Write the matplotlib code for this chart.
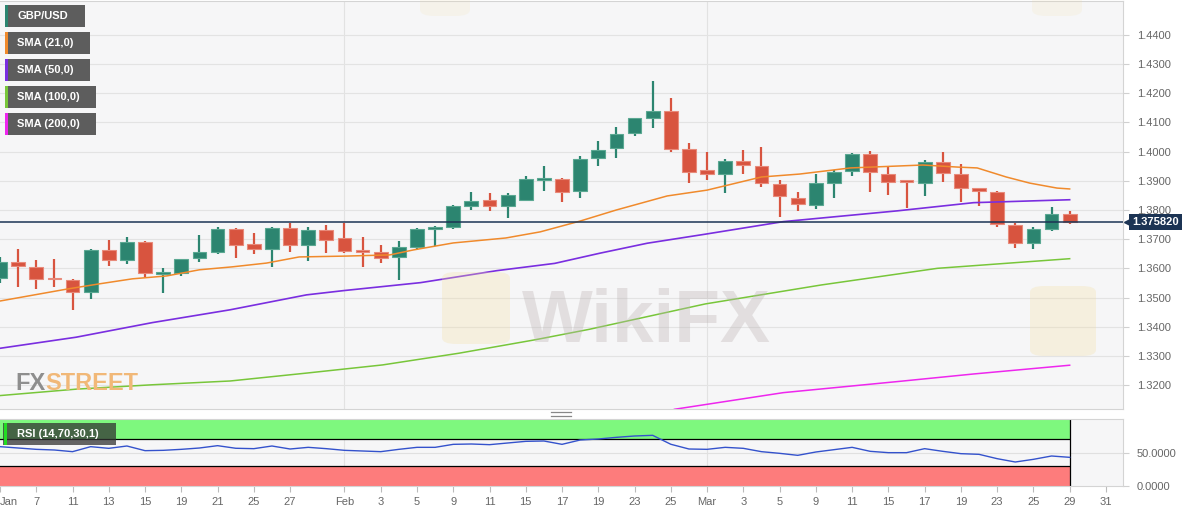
import numpy as np
import pandas as pd
import matplotlib
matplotlib.use("Agg")
import matplotlib.pyplot as plt
from matplotlib.patches import Rectangle, FancyBboxPatch
from matplotlib.lines import Line2D
import matplotlib.transforms as mtransforms

plt.rcParams['font.family'] = ['Liberation Sans', 'DejaVu Sans']

# trading days shown on the axis (candles run to Mar 29, axis to Mar 31)
axis_dates = pd.bdate_range('2021-01-05', '2021-03-31')

opens = [1.3567, 1.3623, 1.3606, 1.3565, 1.3560, 1.3518, 1.3663, 1.3629, 1.3690, 1.3582,
         1.3583, 1.3635, 1.3657, 1.3735, 1.3684, 1.3667, 1.3737, 1.3679, 1.3732, 1.3703,
         1.3660, 1.3655, 1.3638, 1.3672, 1.3735, 1.3741, 1.3815, 1.3833, 1.3815, 1.3834,
         1.3902, 1.3905, 1.3865, 1.3977, 1.4013, 1.4063, 1.4116, 1.4138, 1.4008, 1.3937,
         1.3922, 1.3968, 1.3952, 1.3889, 1.3840, 1.3817, 1.3891, 1.3934, 1.3992, 1.3922,
         1.3901, 1.3891, 1.3965, 1.3922, 1.3874, 1.3863, 1.3748, 1.3686, 1.3734, 1.3785]
highs = [1.3639, 1.3665, 1.3628, 1.3631, 1.3563, 1.3665, 1.3697, 1.3708, 1.3693, 1.3601,
         1.3633, 1.3714, 1.3741, 1.3738, 1.3720, 1.3743, 1.3757, 1.3741, 1.3749, 1.3757,
         1.3707, 1.3679, 1.3694, 1.3738, 1.3746, 1.3816, 1.3861, 1.3857, 1.3857, 1.3915,
         1.3951, 1.3909, 1.3985, 1.4036, 1.4084, 1.4116, 1.4242, 1.4184, 1.4030, 1.4000,
         1.3974, 1.4005, 1.4017, 1.3903, 1.3862, 1.3923, 1.3937, 1.3995, 1.4002, 1.3948,
         1.3903, 1.3971, 1.3999, 1.3958, 1.3875, 1.3864, 1.3754, 1.3741, 1.3811, 1.3798]
lows = [1.3550, 1.3535, 1.3528, 1.3535, 1.3458, 1.3496, 1.3609, 1.3614, 1.3570, 1.3517,
        1.3573, 1.3621, 1.3648, 1.3635, 1.3648, 1.3606, 1.3657, 1.3626, 1.3654, 1.3654,
        1.3606, 1.3617, 1.3560, 1.3663, 1.3678, 1.3734, 1.3800, 1.3798, 1.3774, 1.3834,
        1.3865, 1.3828, 1.3840, 1.3952, 1.3979, 1.4054, 1.4082, 1.4000, 1.3891, 1.3903,
        1.3857, 1.3922, 1.3880, 1.3777, 1.3798, 1.3802, 1.3842, 1.3917, 1.3863, 1.3852,
        1.3808, 1.3849, 1.3897, 1.3828, 1.3815, 1.3741, 1.3671, 1.3667, 1.3729, 1.3752]
closes = [1.3623, 1.3608, 1.3564, 1.3562, 1.3518, 1.3663, 1.3629, 1.3690, 1.3583, 1.3585,
          1.3631, 1.3655, 1.3735, 1.3680, 1.3667, 1.3737, 1.3680, 1.3732, 1.3697, 1.3660,
          1.3657, 1.3637, 1.3672, 1.3736, 1.3739, 1.3814, 1.3832, 1.3815, 1.3850, 1.3905,
          1.3906, 1.3863, 1.3975, 1.4005, 1.4061, 1.4114, 1.4138, 1.4008, 1.3929, 1.3922,
          1.3968, 1.3953, 1.3891, 1.3848, 1.3820, 1.3891, 1.3931, 1.3992, 1.3929, 1.3895,
          1.3895, 1.3963, 1.3926, 1.3874, 1.3865, 1.3751, 1.3686, 1.3734, 1.3785, 1.37582]

# moving averages (bar position, value)
sma21_pos = [0, 3.7, 5.5, 7.3, 9.2, 11, 12.8, 14.7, 16.5, 19.1, 21.5, 22.8, 25, 27.9, 29.8,
             32, 34, 36.8, 39, 42, 44.1, 46.9, 50.9, 52.8, 53.9, 55.5, 56.8, 58.3, 59]
sma21_val = [1.3488, 1.3529, 1.3547, 1.3564, 1.3574, 1.3595, 1.3605, 1.3618, 1.3639, 1.3642,
             1.3646, 1.3663, 1.3687, 1.3704, 1.3725, 1.3762, 1.3800, 1.3848, 1.3868, 1.3913,
             1.3923, 1.3944, 1.3954, 1.3947, 1.3944, 1.3913, 1.3892, 1.3875, 1.3872]
sma50_pos = [0, 4.2, 8.4, 12.7, 16.9, 19, 23.2, 27.4, 30.6, 33.1, 35.7, 38.9, 43.2, 49.5, 53.7, 59]
sma50_val = [1.3326, 1.3364, 1.3414, 1.3458, 1.3509, 1.3524, 1.3551, 1.3592, 1.3617, 1.3652,
             1.3686, 1.3717, 1.3760, 1.3797, 1.3825, 1.3835]
sma100_pos = [0, 4.2, 8.4, 12.7, 16.9, 21.1, 25.3, 29.5, 32.5, 38.9, 45.3, 51.7, 59]
sma100_val = [1.3164, 1.3186, 1.3201, 1.3214, 1.3241, 1.3269, 1.3309, 1.3355, 1.3391, 1.3478,
              1.3543, 1.3600, 1.3633]
sma200_pos = [37.2, 43.2, 49.5, 53.7, 59]
sma200_val = [1.3117, 1.3174, 1.3212, 1.3238, 1.3268]

rsi = [59, 57, 55, 54, 51.5, 59, 56.5, 60, 53, 53.5, 55, 57, 60.5, 56.6, 56, 60, 55.5, 58, 56, 53.5,
       52.5, 51.5, 55, 58, 58, 62.5, 63, 62, 64.5, 67, 67.5, 62.5, 69, 70.5, 73, 75, 76, 62.6, 55.5, 55,
       58, 56.5, 51.5, 49, 46, 51, 54.5, 58, 52, 50, 50, 56, 52, 48.5, 47.5, 41, 36, 40, 45, 43]

last_price = 1.375820

tick_dates = ['2021-01-05', '2021-01-07', '2021-01-11', '2021-01-13', '2021-01-15', '2021-01-19',
              '2021-01-21', '2021-01-25', '2021-01-27', '2021-02-01', '2021-02-03', '2021-02-05',
              '2021-02-09', '2021-02-11', '2021-02-15', '2021-02-17', '2021-02-19', '2021-02-23',
              '2021-02-25', '2021-03-01', '2021-03-03', '2021-03-05', '2021-03-09', '2021-03-11',
              '2021-03-15', '2021-03-17', '2021-03-19', '2021-03-23', '2021-03-25', '2021-03-29',
              '2021-03-31']
tick_labels = ['Jan', '7', '11', '13', '15', '19', '21', '25', '27', 'Feb', '3', '5', '9', '11',
               '15', '17', '19', '23', '25', 'Mar', '3', '5', '9', '11', '15', '17', '19', '23',
               '25', '29', '31']
month_starts = ['2021-02-01', '2021-03-01']

bull, bear = '#2c8570', '#d8543f'
c21, c50, c100, c200 = '#f08a2c', '#7a2ee0', '#78c63a', '#ee26ee'
navy = '#1c3454'
bg = '#f6f6f7'

W, H = 1194, 513
fig = plt.figure(figsize=(W / 100, H / 100), dpi=100)
fig.patch.set_facecolor('white')


def fx(x):
    return x / W


def fy(y):
    return 1 - y / H


ax = fig.add_axes([0, fy(409), fx(1123), (409 - 1) / H])
rax = fig.add_axes([0, fy(486), fx(1123), (486 - 419) / H], sharex=ax)
for a in (ax, rax):
    a.set_facecolor(bg)
    for s in a.spines.values():
        s.set_color('#d4d4d4')
        s.set_linewidth(0.8)
    a.spines['left'].set_visible(False)

n = len(closes)
x = np.arange(n)
o = np.array(opens)
c = np.array(closes)
colors = [bull if cc >= oo else bear for oo, cc in zip(o, c)]
edges = ['#5aa892' if cc >= oo else '#e88a7a' for oo, cc in zip(o, c)]

ax.vlines(x, lows, highs, colors=colors, lw=1.6, zorder=3)
body_lo = np.minimum(o, c)
body_h = np.maximum(np.abs(c - o), 0.0006)
ax.bar(x, body_h, bottom=body_lo, width=0.76, color=colors, edgecolor=edges, linewidth=0.8, zorder=4)

ax.plot(sma21_pos, sma21_val, color=c21, lw=1.1, zorder=5)
ax.plot(sma50_pos, sma50_val, color=c50, lw=1.2, zorder=5)
ax.plot(sma100_pos, sma100_val, color=c100, lw=1.1, zorder=5)
ax.plot(sma200_pos, sma200_val, color=c200, lw=1.1, zorder=5)

ax.axhline(last_price, color=navy, lw=1.1, zorder=6)

pos = {d: i for i, d in enumerate(axis_dates.strftime('%Y-%m-%d'))}
for m in month_starts:
    ax.axvline(pos[m], color='#e2e2e2', lw=0.8, zorder=0)
    rax.axvline(pos[m], color='#e2e2e2', lw=0.8, zorder=0)

ax.set_xlim(0, 1123 / 18.13)
ax.set_ylim(1.3118, 1.4516)
ax.yaxis.tick_right()
ax.set_yticks(np.arange(1.32, 1.4401, 0.01))
ax.yaxis.set_major_formatter(matplotlib.ticker.FormatStrFormatter('%.4f'))
ax.tick_params(axis='y', colors='#d0d0d0', labelcolor='#666666', labelsize=8, length=4, pad=6)
ax.tick_params(axis='x', bottom=False, labelbottom=False)
ax.grid(axis='y', color='#e3e3e3', lw=0.8, zorder=0)

# last price tag
tr = mtransforms.blended_transform_factory(ax.transAxes, ax.transData)
ax.text(1.0085, last_price, '1.375820', transform=tr, color='white', fontsize=8, fontweight='bold',
        va='center', ha='left', zorder=10, clip_on=False,
        bbox=dict(boxstyle='square,pad=0.28', fc=navy, ec='none'))
ax.plot([1.004], [last_price], marker='<', ms=5, color=navy, transform=tr, clip_on=False, zorder=10)

# RSI panel
last = n - 1
rax.fill_between([-1, last], 70, 100.5, color='#7ef87e', lw=0, zorder=1)
rax.fill_between([-1, last], 0, 30, color='#fd7c7c', lw=0, zorder=1)
rax.hlines([70, 30], -1, last, colors='black', lw=0.9, zorder=2)
rax.vlines(last, 0, 100.5, colors='black', lw=0.9, zorder=2)
rax.axhline(50, color='#e0e0e0', lw=0.8, zorder=0)
rax.plot(x, rsi, color='#3452cc', lw=1.0, zorder=3)
rax.set_ylim(0, 100.5)
rax.yaxis.tick_right()
rax.set_yticks([0, 50])
rax.yaxis.set_major_formatter(matplotlib.ticker.FormatStrFormatter('%.4f'))
rax.tick_params(axis='y', colors='#d0d0d0', labelcolor='#666666', labelsize=8, length=4, pad=6)

rax.set_xticks([pos[d] for d in tick_dates])
rax.set_xticklabels(tick_labels)
rax.tick_params(axis='x', colors='#bbbbbb', labelcolor='#666666', labelsize=8, length=4, pad=4)
rax.get_xticklabels()[0].set_ha('left')

# legend boxes
legend = [('GBP/USD', bull, 80), ('SMA (21,0)', c21, 85), ('SMA (50,0)', c50, 85),
          ('SMA (100,0)', c100, 91), ('SMA (200,0)', c200, 91)]
for k, (label, col, w) in enumerate(legend):
    top = 5 + 27 * k
    fig.add_artist(Rectangle((fx(5), fy(top + 22)), fx(w), 22 / H, transform=fig.transFigure,
                             fc='#5d5d5d', ec='none', zorder=20))
    fig.add_artist(Rectangle((fx(5), fy(top + 22)), fx(3), 22 / H, transform=fig.transFigure,
                             fc=col, ec='none', zorder=21))
    fig.text(fx(17), fy(top + 11), label, color='white', fontsize=8, fontweight='bold',
             va='center', ha='left', zorder=22)

fig.add_artist(Rectangle((fx(3), fy(445)), fx(113), 22 / H, transform=fig.transFigure,
                         fc='#333333', alpha=0.75, ec='none', zorder=20))
fig.add_artist(Rectangle((fx(4), fy(445)), fx(3), 22 / H, transform=fig.transFigure,
                         fc='#22dd22', ec='none', zorder=21))
fig.text(fx(17), fy(434), 'RSI (14,70,30,1)', color='white', fontsize=8, fontweight='bold',
         va='center', ha='left', zorder=22)

# panel handle
for yy in (412, 415.5):
    fig.add_artist(Line2D([fx(551), fx(571)], [fy(yy), fy(yy)], color='#888888', lw=0.9))

# watermarks
for (lx, ly, lw_, lh, al) in [(442, 272, 68, 72, 0.3), (1030, 286, 66, 70, 0.3),
                              (420, -30, 50, 46, 0.15), (1032, -30, 50, 46, 0.15)]:
    fig.add_artist(FancyBboxPatch((fx(lx), fy(ly + lh)), fx(lw_), lh / H, transform=fig.transFigure,
                                  boxstyle='round,pad=0,rounding_size=0.012', fc='#f3dfa6',
                                  ec='none', alpha=al, zorder=7))
fig.text(fx(522), fy(342), 'WikiFX', fontsize=54, fontweight='bold', color='#bdb4b4',
         alpha=0.35, ha='left', va='baseline', zorder=8)

t1 = fig.text(fx(15), fy(390), 'FX', fontsize=17, fontweight='bold', color='#8e8e8e',
              va='baseline', zorder=9)
t2 = fig.text(0, fy(390), 'STREET', fontsize=17, fontweight='bold', color='#f1b878',
              va='baseline', zorder=9)

fig.canvas.draw()
bb = t1.get_window_extent()
t2.set_position((bb.x1 / W, fy(390)))

fig.savefig('out.png', dpi=100, facecolor='white')
